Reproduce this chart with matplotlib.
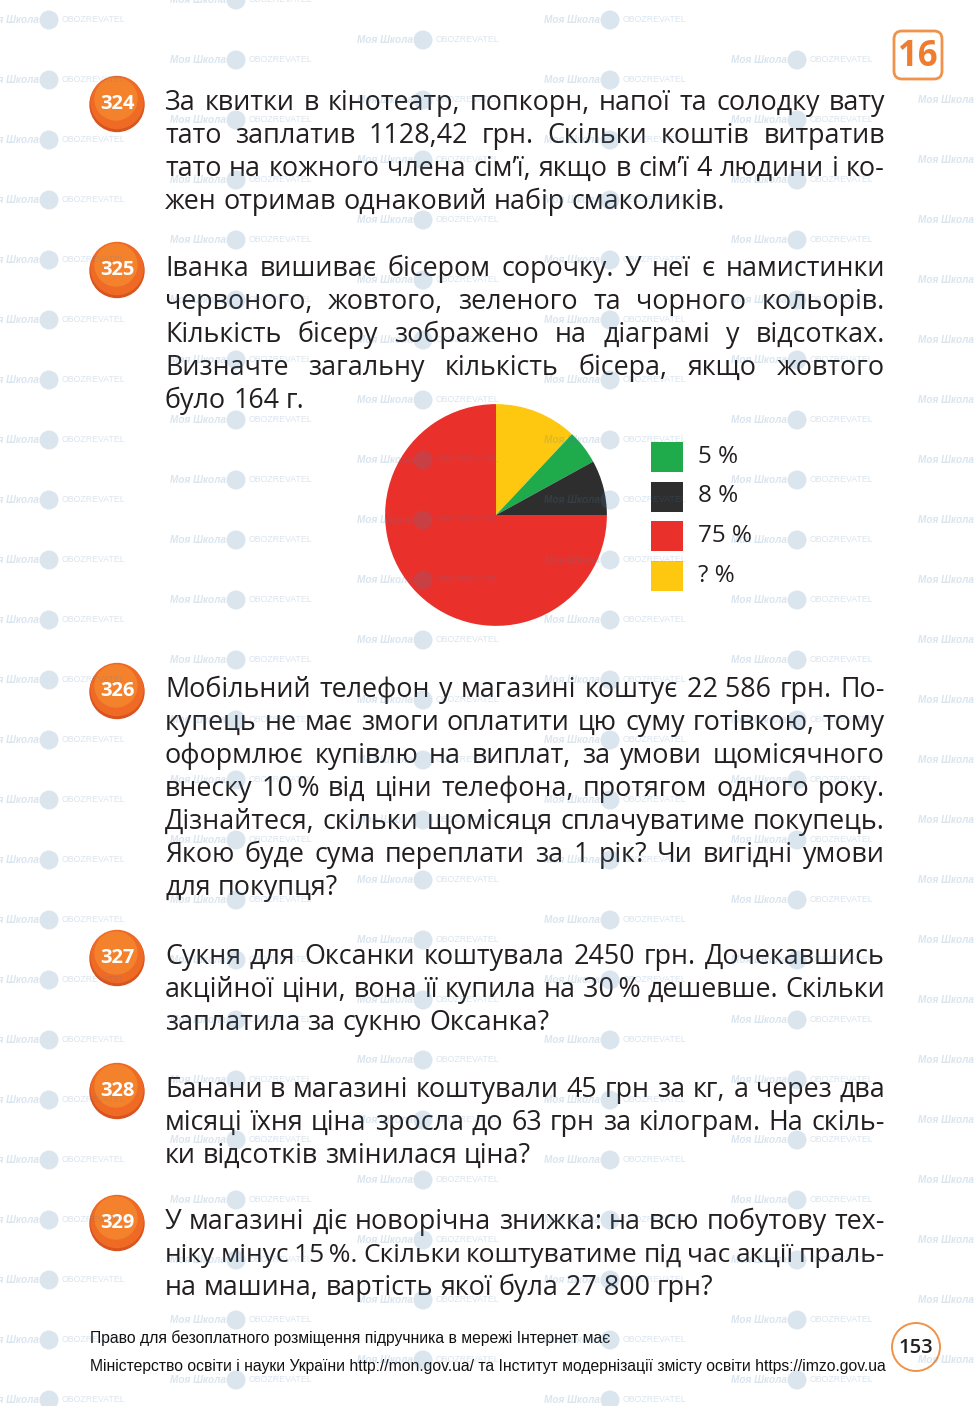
import matplotlib
matplotlib.use("Agg")
import matplotlib.pyplot as plt
from matplotlib.patches import Circle, FancyBboxPatch, Rectangle

W, H = 974, 1406

BODY_FONT = ["Open Sans", "DejaVu Sans"]
NARROW_FONT = ["Liberation Sans Narrow", "Liberation Sans", "DejaVu Sans"]
INK = "#231f20"
ORANGE = "#ef7d30"

# ---- page content -------------------------------------------------------
chapter = "16"
page_no = "153"

task_numbers = ["324", "325", "326", "327", "328", "329"]

task_324 = [
    "За квитки в кінотеатр, попкорн, напої та солодку вату",
    "тато заплатив 1128,42 грн. Скільки коштів витратив",
    "тато на кожного члена сім’ї, якщо в сім’ї 4 людини і ко-",
    "жен отримав однаковий набір смаколиків.",
]
task_325 = [
    "Іванка вишиває бісером сорочку. У неї є намистинки",
    "червоного, жовтого, зеленого та чорного кольорів.",
    "Кількість бісеру зображено на діаграмі у відсотках.",
    "Визначте загальну кількість бісера, якщо жовтого",
    "було 164 г.",
]
task_326 = [
    "Мобільний телефон у магазині коштує 22\u00a0586 грн. По-",
    "купець не має змоги оплатити цю суму готівкою, тому",
    "оформлює купівлю на виплат, за умови щомісячного",
    "внеску 10\u2009% від ціни телефона, протягом одного року.",
    "Дізнайтеся, скільки щомісяця сплачуватиме покупець.",
    "Якою буде сума переплати за 1 рік? Чи вигідні умови",
    "для покупця?",
]
task_327 = [
    "Сукня для Оксанки коштувала 2450 грн. Дочекавшись",
    "акційної ціни, вона її купила на 30\u2009% дешевше. Скільки",
    "заплатила за сукню Оксанка?",
]
task_328 = [
    "Банани в магазині коштували 45 грн за кг, а через два",
    "місяці їхня ціна зросла до 63 грн за кілограм. На скіль-",
    "ки відсотків змінилася ціна?",
]
task_329 = [
    "У магазині діє новорічна знижка: на всю побутову тех-",
    "ніку мінус 15\u2009%. Скільки коштуватиме під час акції праль-",
    "на машина, вартість якої була 27\u00a0800 грн?",
]
task_texts = [task_324, task_325, task_326, task_327, task_328, task_329]

# pie chart: bead shares in percent (legend order), "?" share is the rest
share_labels = ["5 %", "8 %", "75 %", "? %"]
shares = [5, 8, 75, 12]
share_colors = ["#1fab4c", "#2e2e2e", "#ea302b", "#fdc80f"]

footer = [
    "Право для безоплатного розміщення підручника в мережі Інтернет має",
    "Міністерство освіти і науки України http://mon.gov.ua/ та Інститут "
    "модернізації змісту освіти https://imzo.gov.ua",
]

# ---- layout -------------------------------------------------------------
first_baselines = [110, 276, 697, 964, 1097, 1229]
line_step = 33
text_left, text_right = 165, 885
body_size = 19.4

fig = plt.figure(figsize=(W / 100, H / 100), dpi=100)
fig.patch.set_facecolor("white")
ax = fig.add_axes([0, 0, 1, 1])
ax.set_xlim(0, W)
ax.set_ylim(H, 0)
ax.axis("off")
renderer = fig.canvas.get_renderer()


def text_width(s, **kw):
    t = ax.text(0, 0, s, **kw)
    w = t.get_window_extent(renderer).width
    t.remove()
    return w


def put_line(line, y, justify, size, **kw):
    words = line.split(" ")
    space = text_width("н н", fontsize=size, **kw) - text_width("нн", fontsize=size, **kw)
    natural = sum(text_width(w, fontsize=size, **kw) for w in words)
    natural += 0.8 * space * (len(words) - 1)
    if justify and natural > text_right - text_left:
        # overfull line: set it a little tighter, as the typesetter did
        size *= (text_right - text_left) / natural
    texts = [ax.text(0, y, w, va="baseline", fontsize=size, **kw) for w in words]
    widths = [t.get_window_extent(renderer).width for t in texts]
    if justify and len(words) > 1:
        gap = (text_right - text_left - sum(widths)) / (len(words) - 1)
    else:
        gap = space
    x = text_left
    for t, w in zip(texts, widths):
        t.set_x(x)
        x += w + gap


def badge(x, y, label):
    ax.add_patch(Circle((x, y + 1.5), 27, color="#d9531f", zorder=3))
    ax.add_patch(Circle((x, y - 0.5), 26, color="#ee6a25", zorder=3))
    ax.add_patch(Circle((x - 1, y - 4), 21, color="#f4822c", zorder=3))
    ax.text(x, y + 1, label, ha="center", va="center", color="white",
            fontsize=14.5, fontweight="bold", family=BODY_FONT, zorder=4)


body_kw = dict(color=INK, family=BODY_FONT, zorder=5)
for num, lines, y0 in zip(task_numbers, task_texts, first_baselines):
    badge(117, y0 - 7, num)
    for k, line in enumerate(lines):
        put_line(line, y0 + k * line_step, k < len(lines) - 1, body_size,
                 **body_kw)

# chapter box and page number
ax.add_patch(FancyBboxPatch((894, 31), 48, 48,
                            boxstyle="round,pad=0,rounding_size=8",
                            fc="white", ec="#f0934a", lw=2.0, zorder=3))
ax.text(918, 57, chapter, ha="center", va="center", color=ORANGE,
        fontsize=25, fontweight="bold", family=BODY_FONT, zorder=4)
ax.add_patch(Circle((916, 1347), 24, fc="none", ec="#f0934a", lw=1.4,
                    zorder=3))
ax.text(916, 1348, page_no, ha="center", va="center", color=INK,
        fontsize=14.5, fontweight="semibold", family=BODY_FONT, zorder=4)

for k, line in enumerate(footer):
    ax.text(90, 1343 + k * 28, line, va="baseline", color="#111111",
            fontsize=11.3, family=NARROW_FONT, zorder=5)

# legend of the pie chart
for i, (lab, col) in enumerate(zip(share_labels, share_colors)):
    yc = 457 + i * 39.5
    ax.add_patch(Rectangle((651, yc - 15), 32, 30, fc=col, ec="none",
                           zorder=3))
    ax.text(698, yc, lab, va="center", color=INK, fontsize=17.5,
            family=BODY_FONT, zorder=4)

# pie chart in its own square axes (yellow, green, black, red clockwise)
cx, cy, r = 496, 515, 112
pie_ax = fig.add_axes([(cx - r) / W, 1 - (cy + r) / H, 2 * r / W, 2 * r / H])
order = [3, 0, 1, 2]
pie_ax.pie([shares[i] for i in order], colors=[share_colors[i] for i in order],
           startangle=90, counterclock=False, radius=1,
           wedgeprops=dict(linewidth=0))
pie_ax.set_xlim(-1.01, 1.01)
pie_ax.set_ylim(-1.01, 1.01)
pie_ax.axis("off")

# faint site watermark grid on top of everything
wm_ax = fig.add_axes([0, 0, 1, 1])
wm_ax.set_xlim(0, W)
wm_ax.set_ylim(H, 0)
wm_ax.axis("off")
wm_col, wm_alpha = "#4b7dac", 0.2
for i in range(-1, 5):
    for j in range(-1, 25):
        x = 170 + 187 * i
        y = 40 * i + 60 * j
        if y < -10 or y > H + 10:
            continue
        wm_ax.text(x, y, "Моя Школа", va="center", ha="left", fontsize=7.2,
                   style="italic", fontweight="bold", family=NARROW_FONT,
                   color=wm_col, alpha=wm_alpha)
        wm_ax.add_patch(Circle((x + 66, y), 9.5, color=wm_col,
                               alpha=wm_alpha, lw=0))
        wm_ax.text(x + 79, y, "OBOZREVATEL", va="center", ha="left",
                   fontsize=6.3, family=NARROW_FONT, color=wm_col,
                   alpha=wm_alpha)

fig.savefig("out.png", dpi=100, facecolor="white")
